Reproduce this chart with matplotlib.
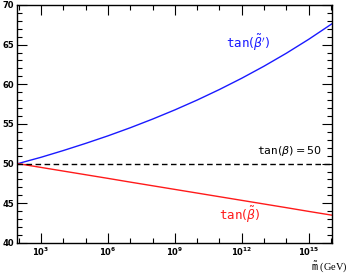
import matplotlib
matplotlib.use("Agg")
import matplotlib.pyplot as plt
import numpy as np

# log10 of m-tilde in GeV, from m_Z up to ~GUT scale
log_m = [1.96, 3, 4, 5, 6, 7, 8, 9, 10, 11, 12, 13, 14, 15, 16.05]
tan_beta_prime = [50.0, 50.8, 51.65, 52.55, 53.5, 54.52, 55.61, 56.77, 58.01,
                  59.34, 60.76, 62.28, 63.91, 65.66, 67.63]
tan_beta_tilde = [50.0, 49.52, 49.06, 48.6, 48.14, 47.67, 47.21, 46.75, 46.29,
                  45.83, 45.37, 44.91, 44.45, 43.98, 43.5]
tan_beta_ref = 50
x_ticks = [1e3, 1e6, 1e9, 1e12, 1e15]
x_ticklabels = [r"$\mathbf{10^{3}}$", r"$\mathbf{10^{6}}$", r"$\mathbf{10^{9}}$",
                r"$\mathbf{10^{12}}$", r"$\mathbf{10^{15}}$"]

m = 10 ** np.array(log_m)

fig = plt.figure(figsize=(3.51, 2.73), dpi=100)
ax = fig.add_axes([0.0484, 0.110, 0.8976, 0.872])

ax.plot(m, tan_beta_prime, color="#1a1aff", lw=1.0)
ax.plot(m, tan_beta_tilde, color="#ff1a1a", lw=1.0)
ax.axhline(tan_beta_ref, color="black", lw=1.0, ls=(0, (4, 2.5)))

ax.set_xscale("log")
ax.set_xlim(10 ** 1.92, 10 ** 16.05)
ax.set_ylim(40, 70)

ax.set_xticks(x_ticks)
ax.set_xticklabels(x_ticklabels, fontsize=6)
ax.set_xticks(10.0 ** np.arange(2, 17), minor=True)
ax.xaxis.set_minor_formatter(matplotlib.ticker.NullFormatter())
ax.set_yticks(np.arange(40, 71, 5))
ax.set_yticklabels([str(v) for v in range(40, 71, 5)], fontsize=6, fontweight="bold")
ax.set_yticks(np.arange(40, 71, 1), minor=True)

ax.tick_params(which="both", direction="in", top=True, right=True, width=0.8)
ax.tick_params(which="major", length=7, pad=2)
ax.tick_params(which="minor", length=3.5)
for s in ax.spines.values():
    s.set_linewidth(1.0)

ax.text(10 ** 12.3, 65.2, r"$\mathtt{tan}(\tilde{\beta}')$", color="#1a1aff",
        fontsize=9, ha="center", va="center")
ax.text(10 ** 11.9, 43.6, r"$\mathtt{tan}(\tilde{\beta})$", color="#ff1a1a",
        fontsize=9, ha="center", va="center")
ax.text(10 ** 15.6, 51.6, r"$\mathtt{tan}(\beta) = 50$", color="black",
        fontsize=8, ha="right", va="center")

fig.text(0.99, 0.022, r"$\tilde{\mathtt{m}}$ (GeV)", fontsize=7.5, ha="right",
         va="center", family="Liberation Serif")

fig.savefig("out.png", dpi=100)
